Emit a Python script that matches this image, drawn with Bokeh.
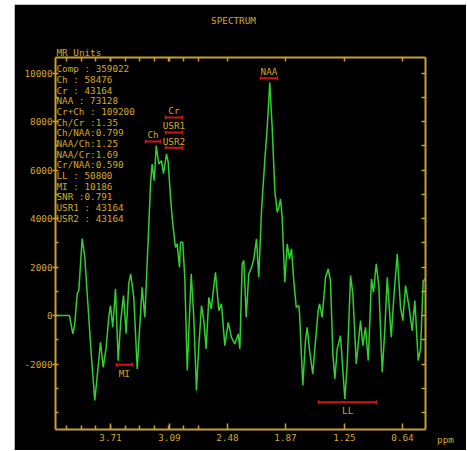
import math
from bokeh.plotting import figure
from bokeh.models import FixedTicker, LinearAxis, Range1d, Label, ColumnDataSource, Title
from bokeh.core.properties import value
from bokeh.embed import file_html
from bokeh.resources import INLINE

# ---- spectrum (ppm, intensity in MR units) ----
ppm = [4.288, 4.141, 4.106, 4.085, 4.060, 4.043, 4.008, 3.980, 3.938, 3.910,
       3.875, 3.844, 3.815, 3.787, 3.755, 3.728, 3.710, 3.686, 3.657, 3.629,
       3.602, 3.573, 3.545, 3.518, 3.497, 3.465, 3.429, 3.405, 3.377, 3.349,
       3.314, 3.289, 3.272, 3.250, 3.229, 3.202, 3.174, 3.153, 3.121, 3.103,
       3.079, 3.055, 3.027, 3.009, 2.984, 2.974, 2.950, 2.929, 2.903, 2.887,
       2.861, 2.834, 2.806, 2.782, 2.753, 2.729, 2.704, 2.676, 2.651, 2.606,
       2.571, 2.543, 2.508, 2.472, 2.438, 2.403, 2.367, 2.350, 2.325, 2.308,
       2.283, 2.256, 2.227, 2.203, 2.175, 2.151, 2.122, 2.088, 2.062, 2.035,
       2.010, 1.982, 1.957, 1.940, 1.922, 1.905, 1.877, 1.852, 1.828, 1.807,
       1.783, 1.757, 1.730, 1.723, 1.688, 1.660, 1.642, 1.617, 1.583, 1.554,
       1.526, 1.512, 1.484, 1.449, 1.421, 1.397, 1.372, 1.351, 1.326, 1.292,
       1.267, 1.246, 1.221, 1.186, 1.162, 1.126, 1.081, 1.057, 1.029, 1.000,
       0.966, 0.945, 0.916, 0.889, 0.853, 0.826, 0.800, 0.758, 0.731, 0.695,
       0.661, 0.636, 0.608, 0.573, 0.538, 0.510, 0.475, 0.450, 0.422, 0.398]
intensity = [0, 0, -755, -330, 907, 1031, 3175, 2404, -70, -1720,
             -3505, -2268, -1101, -2132, -1307, -70, 412, -483, 1101, -1856,
             -206, 825, -742, 1320, 1720, 755, -2198, -619, 1167, -70,
             3093, 5431, 6256, 5567, 7011, 6256, 6392, 5856, 6669, 6322,
             4879, 3782, 2817, 2957, 1992, 3023, 3023, 1580, -2268, -755,
             1720, -70, -3093, -1307, 412, -206, -1373, 755, 276, 1786,
             206, 483, -1237, -276, -895, -1167, -755, -1373, 2132, 2268,
             -70, 1720, 1992, 2338, 3163, 1580, 4330, 6392, 7765, 9621,
             7765, 5155, 4260, 4466, 4813, 4054, 1373, 2957, 2338, 2751,
             1443, 342, 412, 136, -2887, -1031, -483, -1443, -2404, -1031,
             206, 483, -70, 1580, 1926, 1443, -1580, -2610, -1373, -825,
             -2268, -3435, -1992, 1650, 895, -1992, -206, -1237, -483, -1856,
             1514, 961, 2132, 1237, -2338, -619, 1580, -895, 755, 2545,
             342, -206, 1237, 412, -619, 619, -1856, -1373, 1443, 1514]

# ---- axes ----
x_tick_labels = ["3.71", "3.09", "2.48", "1.87", "1.25", "0.64"]
y_tick_values = [-2000, 0, 2000, 4000, 6000, 8000, 10000]
x_limits = [4.288, 0.398]
y_limits = [-4700, 10650]

# ---- results table ----
stat_names = ["Comp", "Ch", "Cr", "NAA", "Cr+Ch", "Ch/Cr", "Ch/NAA", "NAA/Ch",
              "NAA/Cr", "Cr/NAA", "LL", "MI", "SNR", "USR1", "USR2"]
stat_values = [" 359022", " 58476", " 43164", " 73128", " 109200", "1.35", "0.799",
               "1.25", "1.69", "0.590", " 50800", " 10186", "0.791", " 43164", " 43164"]

# ---- peak integration markers ----
peak_names = ["NAA", "Cr", "USR1", "USR2", "Ch", "MI", "LL"]
peak_start = [2.133, 3.132, 3.132, 3.132, 3.342, 3.647, 1.520]
peak_end = [1.954, 2.953, 2.953, 2.953, 3.184, 3.482, 0.913]
peak_level = [9795, 8178, 7559, 6928, 7188, -2033, -3575]
peak_side = ["above", "above", "above", "above", "above", "below", "below"]

GOLD = "#d4a82a"
AXIS = "#c9a030"
GREEN = "#2fd02f"
RED = "#c81818"
FONT = "DejaVu Sans Mono"
FS = "9.3px"

p = figure(width=452, height=446,
           x_range=Range1d(x_limits[0], x_limits[1]),
           y_range=Range1d(y_limits[0], y_limits[1]),
           output_backend="svg", toolbar_location=None,
           background_fill_color="black", border_fill_color="black",
           min_border_left=41, min_border_right=41,
           min_border_top=53, min_border_bottom=21)
p.margin = (4, 0, 0, 14)
p.grid.visible = False
p.outline_line_color = None
p.title.text = ""
p.title.standoff = 0

# x ticks
xt = [float(s) for s in x_tick_labels]
step = (xt[0] - xt[-1]) / 20.0
x_minor = [xt[0] + step * k for k in range(-6, 26)]
x_minor = [v for v in x_minor if x_limits[1] <= v <= x_limits[0]]
x_ticker = FixedTicker(ticks=xt, minor_ticks=x_minor)

y_minor = list(range(-4000, 11000, 1000))
y_ticker = FixedTicker(ticks=y_tick_values, minor_ticks=y_minor)


def style(ax):
    ax.axis_line_color = AXIS
    ax.axis_line_width = 2
    ax.major_tick_line_color = AXIS
    ax.minor_tick_line_color = AXIS
    ax.major_tick_line_width = 1.5
    ax.minor_tick_line_width = 1.5
    ax.major_label_text_color = GOLD
    ax.major_label_text_font = FONT
    ax.major_label_text_font_size = FS


xa = p.xaxis[0]
xa.ticker = x_ticker
xa.major_label_overrides = {v: s for v, s in zip(xt, x_tick_labels)}
style(xa)
xa.major_tick_in = 6
xa.major_tick_out = 0
xa.minor_tick_in = 4
xa.minor_tick_out = 0
xa.major_label_standoff = 4

ya = p.yaxis[0]
ya.ticker = y_ticker
ya.major_label_overrides = {v: str(v) for v in y_tick_values}
style(ya)
ya.major_tick_in = 0
ya.major_tick_out = 3
ya.minor_tick_in = 3
ya.minor_tick_out = 0
ya.major_label_standoff = 0

top = LinearAxis(ticker=FixedTicker(ticks=xt, minor_ticks=x_minor))
style(top)
top.major_tick_in = 4
top.major_tick_out = 0
top.minor_tick_in = 4
top.minor_tick_out = 0
top.major_label_standoff = 0
top.major_label_text_color = None
top.major_label_text_font_size = "1px"
p.add_layout(top, "above")

right = LinearAxis(ticker=FixedTicker(ticks=y_minor, minor_ticks=[]))
style(right)
right.major_tick_in = 4
right.major_tick_out = 0
right.minor_tick_in = 0
right.minor_tick_out = 0
right.major_label_standoff = 0
right.major_label_text_color = None
right.major_label_text_font_size = "1px"
p.add_layout(right, "right")

# unit title just above the frame
p.add_layout(Title(text="MR Units", align="left", offset=1, standoff=0,
                   text_color=GOLD, text_font=FONT, text_font_size=FS,
                   text_font_style="normal"), "above")

# main title, in the top side panel
p.add_layout(Label(x=178, y=24, x_units="screen", y_units="screen", text="SPECTRUM",
                   text_align="center", text_baseline="middle", text_color=GOLD,
                   text_font=FONT, text_font_size=FS), "above")

# spectrum
p.line(ppm, intensity, line_color=GREEN, line_width=1.5)

# peak markers
mid = [(a + b) / 2 for a, b in zip(peak_start, peak_end)]
p.segment(x0=peak_start, y0=peak_level, x1=peak_end, y1=peak_level,
          line_color=RED, line_width=2)
p.scatter(x=peak_start + peak_end, y=peak_level + peak_level, marker="dash",
          angle=math.pi / 2, size=4, line_color=RED, line_width=1.5)
above = [i for i, s in enumerate(peak_side) if s == "above"]
below = [i for i, s in enumerate(peak_side) if s == "below"]
p.text(x=[mid[i] for i in above], y=[peak_level[i] for i in above],
       text=[peak_names[i] for i in above], text_align="center",
       text_baseline="bottom", y_offset=-1, text_color=GOLD,
       text_font=value(FONT), text_font_size=FS)
p.text(x=[mid[i] for i in below], y=[peak_level[i] for i in below],
       text=[peak_names[i] for i in below], text_align="center",
       text_baseline="top", y_offset=3, text_color=GOLD,
       text_font=value(FONT), text_font_size=FS)

# results table
lines = [n.ljust(6) + ":" + v for n, v in zip(stat_names, stat_values)]
row_h = (y_limits[1] - y_limits[0]) / 372.0 * 10.68
y0 = 10186
src = ColumnDataSource(dict(x=[4.278] * len(lines),
                            y=[y0 - i * row_h for i in range(len(lines))],
                            t=lines))
p.text(x="x", y="y", text="t", source=src, text_align="left",
       text_baseline="middle", text_color=GOLD, text_font=value(FONT),
       text_font_size=FS)

# axis unit at the right end of the x axis, in the right side panel
p.add_layout(Label(x=20, y=-10, x_units="screen", y_units="screen", text="ppm",
                   text_align="center", text_baseline="middle", text_color=GOLD,
                   text_font=FONT, text_font_size=FS), "right")

open("out.html", "w").write(file_html(p, INLINE))
